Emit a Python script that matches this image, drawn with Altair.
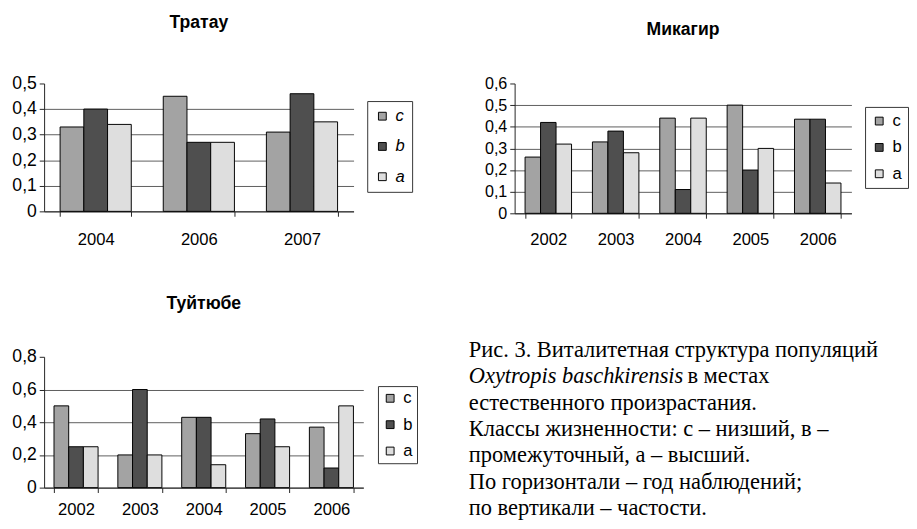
import altair as alt
import pandas as pd

# ---------------- data ----------------
series = ["c", "b", "a"]
series_colors = ["#a3a3a3", "#4f4f4f", "#dedede"]

tratau_title = "Тратау"
tratau_years = ["2004", "2006", "2007"]
tratau_c = [0.33, 0.45, 0.31]
tratau_b = [0.40, 0.27, 0.46]
tratau_a = [0.34, 0.27, 0.35]

mikagir_title = "Микагир"
mikagir_years = ["2002", "2003", "2004", "2005", "2006"]
mikagir_c = [0.26, 0.33, 0.44, 0.50, 0.435]
mikagir_b = [0.42, 0.38, 0.11, 0.20, 0.435]
mikagir_a = [0.32, 0.28, 0.44, 0.30, 0.14]

tuytube_title = "Туйтюбе"
tuytube_years = ["2002", "2003", "2004", "2005", "2006"]
tuytube_c = [0.50, 0.20, 0.43, 0.33, 0.37]
tuytube_b = [0.25, 0.60, 0.43, 0.42, 0.12]
tuytube_a = [0.25, 0.20, 0.14, 0.25, 0.50]

caption_lines = [
    "Рис. 3. Виталитетная структура популяций",
    "",
    "естественного произрастания.",
    "Классы жизненности: с – низший, в –",
    "промежуточный, а – высший.",
    "По горизонтали – год наблюдений;",
    "по вертикали – частости.",
]
caption_italic = "Oxytropis baschkirensis"
caption_rest = "в местах"

SANS = "Liberation Sans"
SERIF = "Liberation Serif"
PAD_INNER = 0.31


def panel(title, years, c, b, a, ymax, ystep, w, h, title_offset, x_pad,
          y_font, y_extent, leg_x, leg_y, leg_pad, leg_row, leg_italic):
    vals = {"c": c, "b": b, "a": a}
    rows = []
    for i, yr in enumerate(years):
        for s in series:
            rows.append({"year": yr, "series": s, "value": vals[s][i]})
    df = pd.DataFrame(rows)
    n = int(round(ymax / ystep))
    ticks = [round(k * ystep, 2) for k in range(n + 1)]
    y_axis = alt.Axis(
        values=ticks, title=None,
        labelExpr="datum.value == 0 ? '0' : replace(format(datum.value, '.1f'), '.', ',')",
        labelFontSize=y_font, labelPadding=3, grid=True, gridColor="#5c5c5c",
        gridOpacity={"condition": {"test": f"datum.value >= {ymax - 0.001}", "value": 0}, "value": 1},
        domainColor="#222222", tickColor="#222222", tickSize=5, minExtent=y_extent,
    )
    x_axis = alt.Axis(
        title=None, labelAngle=0, labelFontSize=17, labelPadding=x_pad,
        domainColor="#222222", tickColor="#222222", tickSize=5, tickBand="extent",
    )
    legend = alt.Legend(
        title=None, orient="none", legendX=leg_x, legendY=leg_y,
        strokeColor="#333333", fillColor="white", padding=leg_pad,
        rowPadding=leg_row, symbolType="square", symbolSize=64,
        symbolStrokeColor="black", symbolStrokeWidth=1, symbolOpacity=1,
        labelFontSize=17, labelFont=SANS, labelColor="black", labelOffset=5,
        labelFontStyle="italic" if leg_italic else "normal",
    )
    return (
        alt.Chart(df)
        .mark_bar(stroke="black", strokeWidth=1)
        .encode(
            x=alt.X("year:N", sort=years, axis=x_axis,
                    scale=alt.Scale(paddingInner=PAD_INNER, paddingOuter=PAD_INNER / 2)),
            xOffset=alt.XOffset("series:N", sort=series,
                                scale=alt.Scale(paddingInner=0, paddingOuter=0)),
            y=alt.Y("value:Q", axis=y_axis,
                    scale=alt.Scale(domain=[0, ymax], nice=False)),
            color=alt.Color("series:N", sort=series,
                            scale=alt.Scale(domain=series, range=series_colors),
                            legend=legend),
        )
        .properties(
            width=w, height=h,
            title=alt.TitleParams(title, offset=title_offset, anchor="middle",
                                  font=SANS, fontSize=18, fontWeight="bold", color="black"),
        )
    )


c1 = panel(tratau_title, tratau_years, tratau_c, tratau_b, tratau_a, 0.5, 0.1,
           317, 131, 44, 16, 18, 37, 331, 18, 7, 13, True)
c2 = panel(mikagir_title, mikagir_years, mikagir_c, mikagir_b, mikagir_a, 0.6, 0.1,
           345, 133, 38, 14, 16.5, 47, 359, 24, 6, 9, False)
c3 = panel(tuytube_title, tuytube_years, tuytube_c, tuytube_b, tuytube_a, 0.8, 0.2,
           327, 134, 35.5, 10, 18, 37, 342, 30, 4, 9, False)

# ---------------- caption ----------------
CAP_X = -47  # caption starts left of the Микагир plot origin
cap_df = pd.DataFrame({"row": list(range(len(caption_lines))), "text": caption_lines})
ital_df = pd.DataFrame({"row": [1], "text": [caption_italic]})
rest_df = pd.DataFrame({"row": [1], "text": [caption_rest]})
cap_y = alt.Y("row:Q", axis=None, scale=alt.Scale(domain=[0, 6], range=[18, 180]))
cap_base = dict(align="left", baseline="alphabetic", font=SERIF, fontSize=23, color="black")
cap_main = alt.Chart(cap_df).mark_text(**cap_base).encode(
    x=alt.value(CAP_X), y=cap_y, text="text:N")
cap_ital = alt.Chart(ital_df).mark_text(fontStyle="italic", **cap_base).encode(
    x=alt.value(CAP_X), y=cap_y, text="text:N")
cap_rest = alt.Chart(rest_df).mark_text(dx=224, **cap_base).encode(
    x=alt.value(CAP_X), y=cap_y, text="text:N")
caption = alt.layer(cap_main, cap_ital, cap_rest).properties(width=380, height=186)

indep = dict(color="independent", xOffset="independent")
col1 = alt.vconcat(c1, c3, spacing=49).resolve_scale(**indep)
col2 = alt.vconcat(c2, caption, spacing=94).resolve_scale(**indep)

chart = (
    alt.hconcat(col1, col2, spacing=52)
    .resolve_scale(**indep)
    .properties(padding=0)
    .configure_view(stroke=None)
    .configure_axis(labelFont=SANS, labelColor="black")
)

chart.save("out.html", embed_options={"renderer": "svg", "actions": False})
